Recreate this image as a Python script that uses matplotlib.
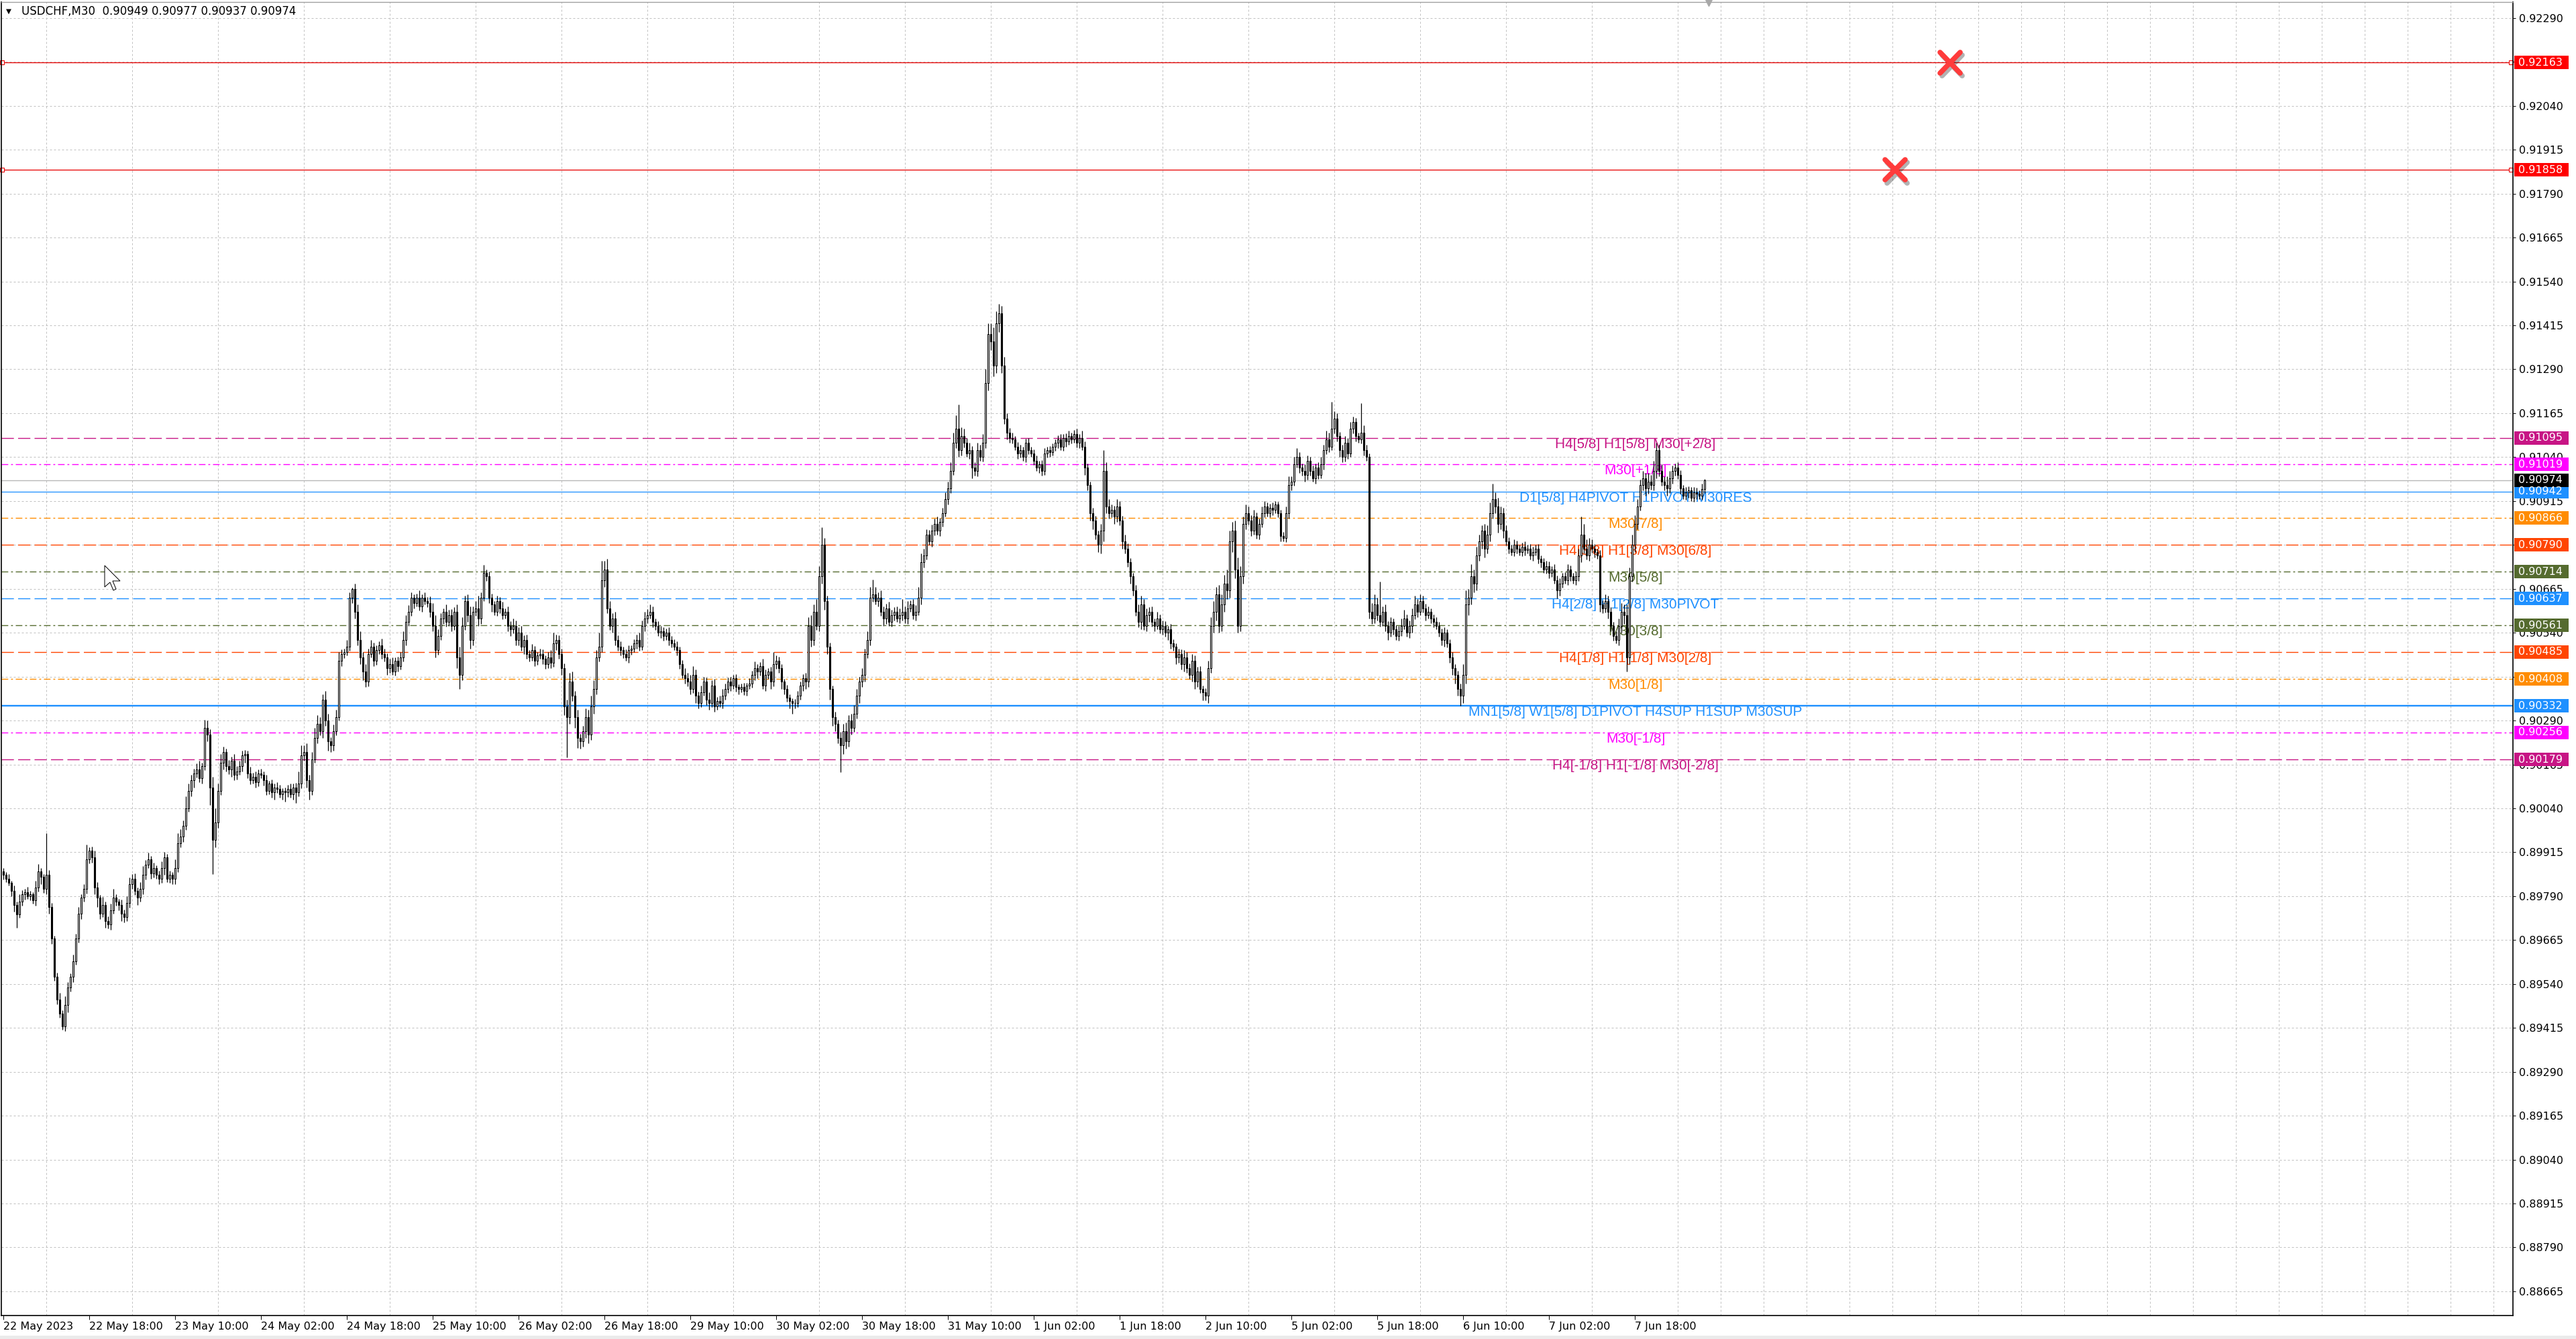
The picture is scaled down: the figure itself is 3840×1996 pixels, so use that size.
import numpy as np
import matplotlib
matplotlib.use("Agg")
import matplotlib.pyplot as plt
import matplotlib.patheffects as pe
import matplotlib.transforms as mtransforms
from matplotlib.patches import Rectangle, Polygon
from matplotlib.markers import MarkerStyle

# ---- data (prices in points of 0.00001 above 0.90000, one value per M30 bar) ----
symbol = "USDCHF,M30"
first_open = -140
close_pts = [
    -150, -160, -172, -195, -235, -262, -225, -205, -198, -210, -205, -222, -185, -140, -155, -190,
    -150, -240, -330, -440, -505, -545, -580, -520, -470, -440, -395, -330, -260, -215, -190, -105,
    -80, -100, -185, -215, -260, -235, -280, -290, -250, -215, -225, -235, -260, -270, -230, -175,
    -160, -195, -215, -190, -150, -120, -105, -145, -130, -150, -160, -130, -100, -160, -150, -160,
    -130, -60, -40, -10, 40, 90, 120, 140, 150, 125, 160, 270, 250, 100, -50, 0,
    90, 170, 200, 160, 150, 175, 135, 145, 160, 190, 195, 140, 120, 130, 115, 140,
    135, 120, 90, 110, 85, 100, 95, 80, 90, 85, 95, 80, 100, 85, 110, 190,
    200, 120, 90, 180, 240, 280, 260, 350, 290, 230, 220, 260, 300, 460, 480, 485,
    500, 640, 665, 600, 520, 470, 430, 400, 480, 500, 460, 490, 505, 480, 470, 440,
    450, 430, 460, 445, 470, 520, 570, 600, 640, 625, 640, 615, 640, 630, 625, 600,
    560, 490, 530, 580, 600, 570, 590, 560, 600, 470, 420, 560, 630, 590, 520, 600,
    610, 580, 640, 710, 700, 640, 620, 600, 630, 610, 590, 600, 560, 550, 560, 520,
    540, 500, 520, 480, 470, 490, 460, 475, 480, 465, 450, 470, 455, 510, 520, 480,
    440, 330, 300, 400, 360, 300, 240, 230, 260, 300, 250, 330, 380, 470, 500, 690,
    720, 610, 560, 580, 520, 500, 490, 480, 470, 490, 495, 510, 520, 500, 560, 580,
    590, 600, 570, 560, 540, 545, 530, 540, 520, 510, 500, 490, 450, 420, 410, 400,
    380, 420, 360, 340, 370, 400, 350, 340, 390, 330, 345, 340, 360, 380, 400, 390,
    410, 385, 380, 385, 375, 390, 395, 420, 440, 430, 445, 390, 420, 430, 400, 450,
    460, 440, 400, 380, 355, 345, 340, 340, 360, 390, 410, 400, 560, 520, 600, 560,
    700, 790, 630, 500, 380, 300, 280, 240, 220, 260, 230, 290, 270, 310, 360, 400,
    420, 480, 520, 640, 650, 630, 640, 600, 580, 610, 570, 590, 600, 580, 590, 600,
    580, 610, 620, 590, 600, 640, 740, 760, 820, 800, 830, 850, 830, 855, 880, 920,
    950, 1000, 1080, 1120, 1060, 1100, 1080, 1050, 1060, 1010, 1000, 1060, 1040, 1080, 1250, 1390,
    1370, 1300, 1420, 1450, 1300, 1150, 1110, 1095, 1090, 1070, 1050, 1060, 1040, 1080, 1060, 1050,
    1030, 1010, 1020, 1000, 1050, 1060, 1055, 1070, 1080, 1090, 1070, 1095, 1085, 1100, 1090, 1105,
    1080, 1095, 1070, 1010, 960, 880, 860, 820, 790, 830, 1000, 900, 880, 890, 870, 900,
    860, 800, 780, 740, 700, 660, 600, 570, 620, 560, 590, 600, 570, 560, 580, 550,
    560, 540, 550, 510, 500, 470, 480, 450, 470, 440, 420, 460, 400, 430, 380, 370,
    360, 440, 560, 600, 650, 560, 620, 680, 660, 800, 830, 720, 560, 700, 850, 880,
    860, 830, 870, 820, 850, 880, 900, 880, 895, 890, 905, 880, 815, 810, 880, 960,
    970, 1020, 1040, 1010, 1000, 990, 1030, 1000, 980, 1010, 990, 1020, 1060, 1090, 1070, 1120,
    1150, 1100, 1060, 1040, 1080, 1050, 1120, 1140, 1100, 1090, 1110, 1060, 1040, 600, 580, 620,
    590, 570, 600, 560, 540, 570, 550, 530, 545, 560, 580, 540, 560, 590, 620, 600,
    630, 610, 590, 600, 580, 570, 560, 540, 520, 540, 510, 470, 440, 420, 380, 360,
    420, 620, 640, 700, 680, 760, 800, 830, 780, 820, 880, 920, 900, 850, 880, 830,
    800, 780, 770, 790, 780, 770, 785, 775, 780, 760, 770, 780, 750, 740, 720, 730,
    710, 720, 690, 660, 680, 700, 690, 720, 700, 690, 700, 760, 820, 780, 760, 790,
    780, 770, 760, 620, 610, 630, 600, 560, 530, 520, 560, 600, 590, 470, 700, 790,
    850, 900, 960, 980, 950, 970, 960, 1000, 1060, 1000, 970, 960, 950, 980, 1000, 1010,
    990, 950, 930, 940, 945, 925, 940, 935, 930, 949, 974,
]
upper_wick = [
    10, 8, 12, 6, 15, 10, 20, 12, 8, 14, 10, 6, 18, 22, 10, 8,
    120, 15, 10, 8, 12, 20, 10, 25, 15, 10, 18, 12, 20, 10, 15, 41,
    10, 12, 20, 15, 8, 22, 10, 12, 18, 25, 10, 8, 15, 12, 20, 18,
    12, 15, 10, 20, 25, 12, 18, 10, 15, 8, 12, 20, 15, 10, 12, 8,
    25, 30, 20, 15, 35, 20, 15, 12, 18, 25, 10, 23, 20, 15, 30, 40,
    20, 25, 15, 10, 18, 12, 20, 15, 15, 15, 12, 10, 18, 12, 15, 10,
    12, 10, 15, 8, 12, 10, 15, 12, 8, 10, 12, 15, 10, 12, 35, 30,
    20, 25, 15, 20, 30, 25, 20, 15, 25, 20, 12, 18, 20, 25, 12, 10,
    20, 15, 3, 15, 20, 25, 15, 20, 15, 20, 12, 15, 10, 18, 15, 12,
    15, 20, 10, 12, 15, 25, 20, 18, 15, 10, 12, 20, 10, 15, 12, 18,
    25, 30, 20, 15, 10, 20, 15, 18, 12, 20, 30, 25, 15, 20, 25, 15,
    20, 35, 15, 23, 10, 15, 12, 10, 15, 12, 18, 10, 15, 12, 20, 15,
    15, 20, 12, 15, 10, 18, 12, 10, 15, 12, 10, 15, 20, 30, 15, 12,
    15, 12, 20, 25, 30, 15, 20, 12, 15, 25, 20, 30, 25, 20, 40, 54,
    25, 30, 20, 15, 20, 12, 15, 10, 12, 15, 10, 12, 15, 20, 15, 20,
    18, 21, 15, 10, 12, 15, 10, 12, 15, 10, 12, 15, 10, 12, 20, 15,
    20, 25, 15, 12, 20, 15, 12, 20, 15, 18, 12, 15, 20, 15, 12, 15,
    10, 12, 8, 10, 12, 8, 15, 12, 18, 10, 12, 20, 15, 10, 12, 35,
    15, 12, 10, 8, 12, 10, 8, 12, 15, 10, 12, 15, 25, 30, 20, 35,
    30, 50, 20, 15, 12, 10, 15, 12, 18, 20, 25, 15, 20, 25, 20, 15,
    20, 15, 25, 30, 42, 20, 15, 20, 15, 12, 18, 15, 12, 15, 20, 35,
    15, 20, 12, 15, 18, 30, 25, 20, 15, 12, 18, 15, 20, 12, 15, 20,
    20, 25, 30, 40, 70, 25, 20, 15, 20, 12, 15, 20, 15, 25, 40, 30,
    30, 40, 35, 26, 20, 25, 15, 12, 15, 10, 12, 15, 10, 12, 15, 10,
    12, 15, 10, 12, 15, 10, 12, 8, 10, 12, 15, 10, 12, 15, 10, 12,
    15, 10, 20, 15, 12, 10, 15, 12, 10, 20, 60, 25, 20, 15, 12, 20,
    15, 12, 20, 15, 12, 10, 15, 20, 25, 15, 20, 12, 15, 10, 20, 12,
    15, 12, 10, 15, 12, 10, 15, 12, 20, 15, 12, 20, 15, 12, 15, 10,
    12, 20, 25, 30, 20, 25, 30, 25, 40, 30, 25, 30, 35, 30, 20, 25,
    20, 15, 20, 12, 15, 20, 15, 10, 12, 15, 10, 8, 10, 12, 20, 25,
    15, 20, 25, 15, 12, 20, 15, 10, 15, 12, 15, 20, 15, 25, 20, 78,
    20, 15, 12, 15, 20, 15, 20, 15, 12, 10, 84, 20, 15, 10, 25, 30,
    20, 95, 15, 20, 12, 15, 10, 12, 15, 20, 25, 12, 15, 20, 25, 15,
    20, 15, 12, 15, 10, 12, 15, 10, 12, 15, 10, 12, 15, 10, 12, 15,
    30, 40, 25, 35, 20, 25, 20, 15, 20, 25, 30, 44, 20, 25, 20, 15,
    15, 12, 10, 15, 12, 10, 12, 15, 10, 12, 15, 10, 12, 10, 12, 15,
    12, 10, 15, 12, 15, 10, 12, 15, 12, 10, 15, 20, 50, 30, 25, 20,
    15, 12, 10, 15, 12, 20, 15, 12, 10, 15, 20, 25, 20, 30, 25, 30,
    25, 20, 15, 20, 15, 25, 20, 30, 20, 15, 20, 15, 25, 20, 15, 12,
    15, 12, 10, 15, 12, 10, 15, 12, 10, 15, 3,
]
lower_wick = [
    12, 10, 8, 15, 20, 38, 10, 12, 15, 8, 12, 10, 15, 12, 20, 10,
    15, 20, 15, 10, 12, 11, 11, 15, 20, 12, 15, 10, 12, 15, 10, 12,
    12, 15, 20, 25, 15, 10, 20, 12, 15, 10, 12, 15, 20, 15, 10, 12,
    15, 12, 20, 10, 15, 12, 10, 15, 12, 10, 15, 12, 20, 10, 12, 15,
    15, 12, 10, 15, 12, 10, 15, 20, 12, 10, 15, 12, 20, 50, 97, 20,
    15, 12, 20, 15, 12, 20, 15, 12, 10, 15, 20, 15, 12, 10, 15, 12,
    10, 15, 12, 10, 15, 20, 12, 10, 15, 25, 12, 10, 15, 30, 10, 12,
    15, 20, 25, 12, 10, 15, 12, 20, 15, 25, 20, 15, 12, 10, 15, 12,
    10, 12, 15, 20, 15, 20, 25, 15, 12, 10, 15, 12, 10, 15, 12, 20,
    15, 10, 12, 15, 10, 12, 15, 10, 12, 15, 10, 12, 15, 10, 12, 15,
    15, 20, 12, 10, 15, 12, 10, 15, 12, 30, 40, 15, 12, 20, 25, 15,
    12, 20, 15, 10, 12, 15, 20, 10, 12, 15, 12, 10, 15, 20, 12, 15,
    15, 12, 20, 15, 12, 10, 15, 12, 10, 15, 12, 10, 15, 12, 20, 15,
    20, 25, 114, 20, 15, 30, 28, 20, 15, 20, 25, 15, 20, 15, 12, 15,
    20, 15, 12, 20, 15, 12, 15, 12, 10, 15, 12, 10, 15, 12, 10, 15,
    12, 10, 15, 12, 10, 15, 12, 10, 15, 12, 10, 15, 12, 10, 15, 12,
    15, 12, 20, 15, 12, 10, 15, 20, 12, 15, 10, 12, 15, 10, 12, 15,
    10, 12, 15, 10, 12, 15, 10, 12, 15, 20, 12, 10, 15, 12, 20, 12,
    12, 15, 20, 15, 12, 20, 30, 15, 12, 10, 15, 20, 15, 20, 15, 12,
    15, 20, 25, 20, 30, 25, 20, 15, 77, 25, 20, 15, 20, 12, 15, 20,
    15, 20, 12, 15, 12, 10, 15, 12, 20, 15, 10, 12, 15, 10, 12, 15,
    12, 15, 10, 12, 15, 10, 20, 15, 12, 10, 15, 12, 10, 15, 12, 10,
    15, 12, 10, 15, 20, 15, 12, 10, 15, 30, 12, 15, 10, 12, 15, 20,
    25, 30, 20, 25, 20, 15, 20, 15, 12, 10, 15, 12, 10, 15, 12, 10,
    12, 10, 15, 12, 10, 12, 15, 10, 12, 15, 10, 12, 15, 10, 12, 10,
    12, 15, 10, 20, 15, 20, 25, 15, 20, 25, 30, 20, 15, 12, 20, 15,
    15, 20, 15, 12, 20, 15, 12, 15, 20, 12, 15, 20, 12, 15, 10, 12,
    15, 12, 20, 15, 12, 20, 15, 14, 20, 15, 12, 20, 20, 15, 12, 22,
    12, 20, 15, 20, 25, 20, 15, 20, 25, 20, 30, 25, 20, 15, 20, 15,
    12, 15, 10, 12, 15, 10, 12, 10, 12, 15, 10, 12, 15, 10, 12, 15,
    15, 12, 10, 15, 12, 20, 15, 12, 10, 15, 12, 10, 15, 12, 15, 10,
    12, 15, 20, 15, 12, 15, 10, 12, 15, 10, 12, 15, 10, 20, 15, 12,
    15, 12, 10, 15, 20, 12, 15, 10, 12, 15, 10, 12, 15, 20, 12, 15,
    10, 12, 15, 10, 12, 15, 10, 12, 15, 20, 12, 15, 20, 25, 20, 27,
    20, 25, 30, 20, 25, 20, 15, 20, 25, 15, 20, 15, 20, 25, 15, 20,
    12, 15, 10, 12, 15, 10, 12, 15, 10, 12, 15, 10, 12, 15, 10, 12,
    15, 12, 10, 23, 15, 12, 10, 15, 12, 10, 15, 12, 20, 15, 12, 15,
    12, 15, 10, 20, 15, 12, 20, 15, 12, 10, 15, 20, 25, 40, 20, 15,
    20, 15, 12, 15, 20, 15, 12, 15, 20, 15, 12, 15, 20, 12, 15, 12,
    12, 15, 10, 12, 15, 10, 12, 15, 10, 12, 12,
]

time_labels = ["22 May 2023", "22 May 18:00", "23 May 10:00", "24 May 02:00", "24 May 18:00",
               "25 May 10:00", "26 May 02:00", "26 May 18:00", "29 May 10:00", "30 May 02:00",
               "30 May 18:00", "31 May 10:00", "1 Jun 02:00", "1 Jun 18:00", "2 Jun 10:00",
               "5 Jun 02:00", "5 Jun 18:00", "6 Jun 10:00", "7 Jun 02:00", "7 Jun 18:00"]

level_prices = [0.91095, 0.91019, 0.90942, 0.90866, 0.90790, 0.90714, 0.90637,
                0.90561, 0.90485, 0.90408, 0.90332, 0.90256, 0.90179]
level_names = ["H4[5/8] H1[5/8] M30[+2/8]", "M30[+1/8]", "D1[5/8] H4PIVOT H1PIVOT M30RES",
               "M30[7/8]", "H4[3/8] H1[3/8] M30[6/8]", "M30[5/8]", "H4[2/8] H1[2/8] M30PIVOT",
               "M30[3/8]", "H4[1/8] H1[1/8] M30[2/8]", "M30[1/8]",
               "MN1[5/8] W1[5/8] D1PIVOT H4SUP H1SUP M30SUP", "M30[-1/8]",
               "H4[-1/8] H1[-1/8] M30[-2/8]"]
stop_prices = [0.92163, 0.91858]
cross_bars = [725.5, 705]

# ---- styles ----
VIOLET, MAGENTA, BLUE = "#C71585", "#FF00FF", "#1E90FF"
ORANGE, ORED, OLIVE = "#FF8C00", "#FF4500", "#556B2F"
level_colors = [VIOLET, MAGENTA, BLUE, ORANGE, ORED, OLIVE, BLUE, OLIVE, ORED, ORANGE, BLUE, MAGENTA, VIOLET]
DASH, DASHDOT = (0, (13, 4.5)), (0, (7, 3, 2, 3))
level_styles = [DASH, DASHDOT, "-", DASHDOT, DASH, DASHDOT, DASH, DASHDOT, DASH, DASHDOT, "-", DASHDOT, DASH]
level_widths = [1.4, 1.4, 1.3, 1.4, 1.4, 1.4, 1.4, 1.4, 1.4, 1.4, 2.4, 1.4, 1.4]

W, H = 3840, 1996
PX = 0.72  # one pixel in points at dpi 100

fig = plt.figure(figsize=(W / 100, H / 100), dpi=100, facecolor="white")
ax = fig.add_axes([2 / W, 1 - 1961 / H, (3746 - 2) / W, (1961 - 3) / H])
ax.set_facecolor("white")

y0, y1 = 0.885961, 0.923356
x0, x1 = -0.75, 935.25
ax.set_xlim(x0, x1)
ax.set_ylim(y0, y1)
unit_per_px = (y1 - y0) / (1961 - 3)

# candles
base, pt = 0.9, 1e-5
c = base + np.array(close_pts) * pt
o = np.r_[base + first_open * pt, c[:-1]]
hi = np.maximum(o, c) + np.array(upper_wick) * pt
lo = np.minimum(o, c) - np.array(lower_wick) * pt
xb = np.arange(len(c))
ax.vlines(xb, lo, hi, color="black", lw=0.9, zorder=3)
up = c >= o
ax.bar(xb[up], np.maximum((c - o)[up], 0.2 * pt), bottom=o[up], width=0.55,
       facecolor="white", edgecolor="black", linewidth=0.8, zorder=4)
ax.bar(xb[~up], (o - c)[~up], bottom=c[~up], width=0.55,
       facecolor="black", edgecolor="black", linewidth=0.8, zorder=4)

# level lines and their labels
for p, name, col, ls, lw in zip(level_prices, level_names, level_colors, level_styles, level_widths):
    ax.axhline(p, color=col, linestyle=ls, lw=lw * PX, zorder=1)
    ax.text(608.25, p, name, color=col, fontsize=15, family="Liberation Sans",
            ha="center", va="top", zorder=1.5)

# bid line
ax.axhline(c[-1], color="#B8B8B8", lw=1.4 * PX, zorder=1)

# stop lines + crosses
for p in stop_prices:
    ax.axhline(p, color="#E80000", lw=1.3 * PX, zorder=1)
    ax.plot([-0.4, 934.6], [p, p], ls="none", marker="s", ms=4, mfc="white",
            mec="#E80000", mew=0.8, clip_on=False, zorder=2)
xm = MarkerStyle("x", capstyle="round")
ax.plot(cross_bars, stop_prices, ls="none", marker=xm, ms=22, mew=5.5, color="#FF3B3B", zorder=6,
        path_effects=[pe.SimpleLineShadow(offset=(2, -3), shadow_color="black", alpha=0.3), pe.Normal()])

# chart shift marker
ax.plot([len(c) + 0.5], [1.0], marker="v", ms=9, color="#A8A8A8", ls="none",
        transform=mtransforms.blended_transform_factory(ax.transData, ax.transAxes),
        clip_on=False, zorder=5)

# grid and axes
yticks = [0.88665 + k * 0.00125 for k in range(30)]
ax.yaxis.tick_right()
ax.set_yticks(yticks)
ax.set_yticklabels([f"{t:.5f}" for t in yticks])
ax.set_xticks(np.arange(0, 16 * 2 * len(time_labels), 32))
ax.set_xticklabels(time_labels)
ax.set_xticks(np.arange(0, 936, 16), minor=True)
for lbl in ax.get_xticklabels():
    lbl.set_ha("left")
ax.tick_params(axis="y", which="major", length=3, width=PX, pad=3.5, labelsize=11.5, colors="black")
ax.tick_params(axis="x", which="major", length=4, width=PX, pad=2.5, labelsize=11.5, colors="black")
ax.tick_params(axis="x", which="minor", length=0)
ax.grid(True, which="minor", axis="x", color="#C0C0C0", linestyle=(0, (3, 3)), lw=PX)
ax.grid(True, which="major", axis="y", color="#C0C0C0", linestyle=(0, (3, 3)), lw=PX)
ax.set_axisbelow(True)
for side in ["left", "right", "bottom"]:
    ax.spines[side].set_color("black")
    ax.spines[side].set_linewidth(1.2)
ax.spines["top"].set_color("#A0A0A0")
ax.spines["top"].set_linewidth(1.0)

# price boxes on the right scale
box_tr = mtransforms.blended_transform_factory(fig.transFigure, ax.transData)
boxes = [(p, "#FF0000") for p in stop_prices] + list(zip(level_prices, level_colors)) + [(c[-1], "black")]
for p, col in boxes:
    fig.add_artist(Rectangle((3748 / W, p - 10 * unit_per_px), 81 / W, 20 * unit_per_px,
                             transform=box_tr, facecolor=col, edgecolor="none", zorder=10))
    fig.text(3754 / W, p, f"{p:.5f}", transform=box_tr, color="white", fontsize=11.5,
             va="center", ha="left", zorder=11)

# header
fig.text(9 / W, 1 - 17 / H, "\u25BC", fontsize=7.5, va="center", ha="left", color="black")
fig.text(32 / W, 1 - 17 / H,
         f"{symbol}  {o[-1]:.5f} {hi[-1]:.5f} {lo[-1]:.5f} {c[-1]:.5f}",
         fontsize=12, va="center", ha="left", color="black")

# mouse cursor
tip = (156, 843)
shape = [(0, 0), (0, 32), (8, 25), (13, 37), (17, 35), (12, 23), (23, 23)]
fig.add_artist(Polygon([((tip[0] + dx) / W, 1 - (tip[1] + dy) / H) for dx, dy in shape],
                       closed=True, transform=fig.transFigure, facecolor="white",
                       edgecolor="black", lw=PX, zorder=12))

# window frame
fig.add_artist(Rectangle((0, 0), 1, 5 / H, transform=fig.transFigure, facecolor="#EBEBEB",
                         edgecolor="none", zorder=0))

fig.savefig("out.png", dpi=100, facecolor="white")
